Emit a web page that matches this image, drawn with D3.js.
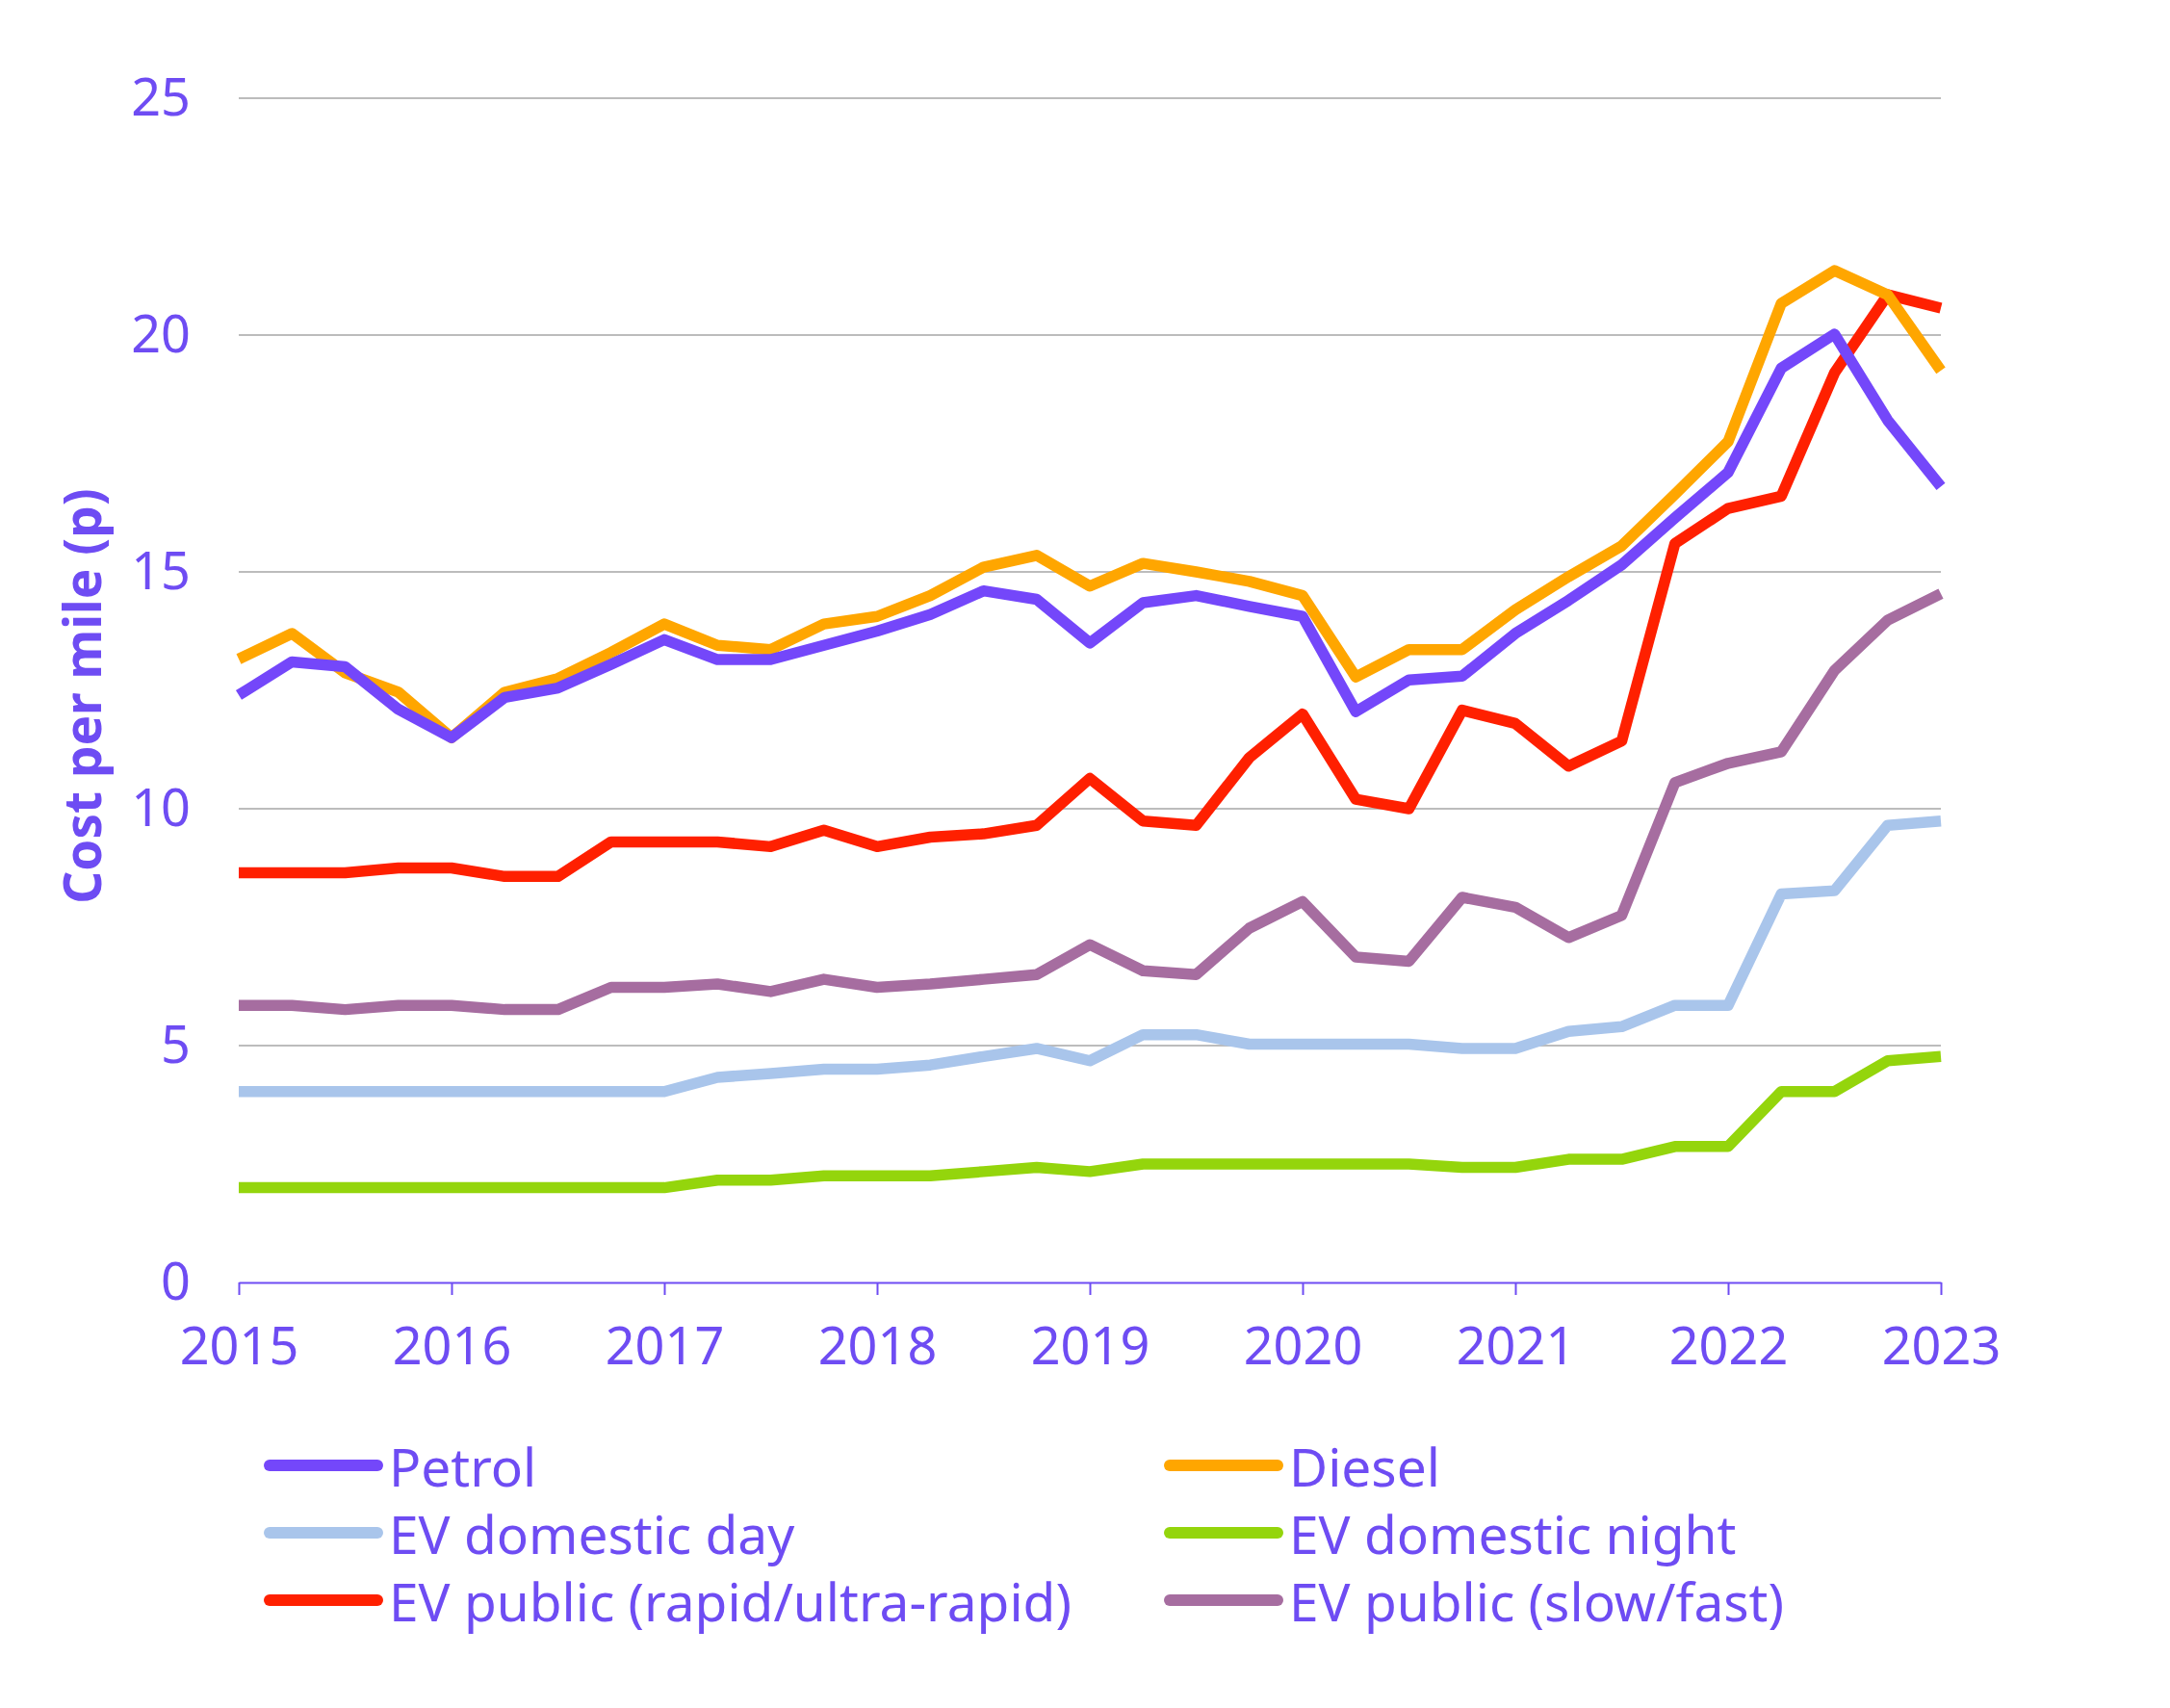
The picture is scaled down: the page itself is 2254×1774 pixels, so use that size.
<!DOCTYPE html>
<html>
<head>
<meta charset="utf-8">
<script src="https://cdn.jsdelivr.net/npm/d3@7"></script>
<style>
  html, body { margin: 0; padding: 0; background: #fff; }
  svg { display: block; }
</style>
</head>
<body>
<svg id="chart" width="2254" height="1774"></svg>
<script>
// quarterly readings, 2015 Q1 .. 2023 Q1
var quarters = d3.range(0, 33).map(function (i) { return 2015 + i / 4 })
var yearTicks = [2015, 2016, 2017, 2018, 2019, 2020, 2021, 2022, 2023]
var valueTicks = [0, 5, 10, 15, 20, 25]

var petrol = [12.4, 13.1, 13.0, 12.1, 11.5, 12.35, 12.55, 13.05, 13.57, 13.15, 13.15, 13.45, 13.75, 14.1, 14.6, 14.42,
  13.5, 14.35, 14.5, 14.27, 14.06, 12.05, 12.72, 12.8, 13.7, 14.4, 15.15, 16.14, 17.1, 19.3, 20.02, 18.2, 16.8]
var diesel = [13.16, 13.7, 12.87, 12.46, 11.5, 12.46, 12.75, 13.3, 13.9, 13.45, 13.36, 13.9, 14.06, 14.5, 15.1, 15.35,
  14.7, 15.18, 15.0, 14.8, 14.5, 12.78, 13.36, 13.36, 14.2, 14.9, 15.55, 16.64, 17.75, 20.67, 21.36, 20.85, 19.25]
var evDay = [4.03, 4.03, 4.03, 4.03, 4.03, 4.03, 4.03, 4.03, 4.03, 4.33, 4.41, 4.5, 4.5, 4.59, 4.77, 4.94,
  4.68, 5.23, 5.23, 5.03, 5.03, 5.03, 5.03, 4.94, 4.94, 5.3, 5.4, 5.85, 5.85, 8.2, 8.27, 9.65, 9.74]
var evNight = [2.0, 2.0, 2.0, 2.0, 2.0, 2.0, 2.0, 2.0, 2.0, 2.16, 2.16, 2.25, 2.25, 2.25, 2.34, 2.43,
  2.34, 2.5, 2.5, 2.5, 2.5, 2.5, 2.5, 2.43, 2.43, 2.6, 2.6, 2.87, 2.87, 4.03, 4.03, 4.68, 4.77]
var evRapid = [8.65, 8.65, 8.65, 8.75, 8.75, 8.57, 8.57, 9.3, 9.3, 9.3, 9.2, 9.55, 9.2, 9.4, 9.47, 9.65,
  10.64, 9.74, 9.65, 11.08, 12.0, 10.2, 10.0, 12.08, 11.8, 10.9, 11.43, 15.6, 16.34, 16.6, 19.2, 20.85, 20.57]
var evSlow = [5.85, 5.85, 5.76, 5.85, 5.85, 5.76, 5.76, 6.23, 6.23, 6.3, 6.14, 6.4, 6.23, 6.3, 6.4, 6.5,
  7.13, 6.58, 6.5, 7.48, 8.04, 6.87, 6.78, 8.13, 7.92, 7.28, 7.75, 10.55, 10.96, 11.2, 12.92, 13.98, 14.54]

var seriesNames = ['Petrol', 'Diesel', 'EV domestic day', 'EV domestic night',
  'EV public (rapid/ultra-rapid)', 'EV public (slow/fast)']
var seriesValues = [petrol, diesel, evDay, evNight, evRapid, evSlow]
var seriesColors = ['#7447fa', '#ffa600', '#a9c5eb', '#94d50c', '#ff2000', '#a66da0']

var textColor = '#6e4cf3'
var font = '"Noto Sans", "DejaVu Sans", sans-serif'

var svg = d3.select('#chart')

var x = d3.scaleLinear().domain([2015, 2023]).range([248, 2016])
var y = d3.scaleLinear().domain([0, 25]).range([1332, 102])

// gridlines
svg.append('g')
  .selectAll('line')
  .data(valueTicks.filter(function (d) { return d > 0 }))
  .enter().append('line')
  .attr('x1', x(2015)).attr('x2', x(2023))
  .attr('y1', function (d) { return y(d) })
  .attr('y2', function (d) { return y(d) })
  .attr('stroke', '#a6a6a6')
  .attr('stroke-width', 1.6)

// y axis labels (no axis line)
var yAxis = svg.append('g')
  .attr('transform', 'translate(' + x(2015) + ',0)')
  .call(d3.axisLeft(y).tickValues(valueTicks).tickSize(0).tickPadding(50))
yAxis.select('.domain').remove()
yAxis.selectAll('text')
  .attr('fill', textColor)
  .style('font-family', font)
  .style('font-size', '54px')

// x axis
var xAxis = svg.append('g')
  .attr('transform', 'translate(0,' + y(0) + ')')
  .call(d3.axisBottom(x).tickValues(yearTicks).tickFormat(d3.format('d')).tickSizeInner(13).tickSizeOuter(0).tickPadding(34))
xAxis.select('.domain').attr('stroke', textColor).attr('stroke-width', 2)
xAxis.selectAll('.tick line').attr('stroke', textColor).attr('stroke-width', 2)
xAxis.selectAll('text')
  .attr('fill', textColor)
  .style('font-family', font)
  .style('font-size', '54px')

// lines
var line = d3.line()
  .x(function (d, i) { return x(quarters[i]) })
  .y(function (d) { return y(d) })

var drawOrder = [3, 2, 5, 4, 1, 0]
svg.append('g')
  .selectAll('path')
  .data(drawOrder.map(function (i) { return { values: seriesValues[i], color: seriesColors[i] } }))
  .enter().append('path')
  .attr('d', function (d) { return line(d.values) })
  .attr('fill', 'none')
  .attr('stroke', function (d) { return d.color })
  .attr('stroke-width', 11.5)
  .attr('stroke-linejoin', 'round')

// y axis title
svg.append('text')
  .attr('transform', 'translate(84,723) rotate(-90)')
  .attr('text-anchor', 'middle')
  .attr('dominant-baseline', 'central')
  .attr('fill', textColor)
  .style('font-family', font)
  .style('font-weight', 'bold')
  .style('font-size', '53px')
  .text('Cost per mile (p)')

// legend, two columns
var legend = svg.append('g')
var colX = [280, 1215]
var rowY = [1522, 1592, 1662]
seriesNames.forEach(function (name, i) {
  var lx = colX[i % 2]
  var ly = rowY[Math.floor(i / 2)]
  legend.append('line')
    .attr('x1', lx).attr('x2', lx + 112)
    .attr('y1', ly).attr('y2', ly)
    .attr('stroke', seriesColors[i])
    .attr('stroke-width', 12)
    .attr('stroke-linecap', 'round')
  legend.append('text')
    .attr('x', lx + 124)
    .attr('y', ly)
    .attr('dominant-baseline', 'central')
    .attr('fill', textColor)
    .style('font-family', font)
    .style('font-size', '55px')
    .text(name)
})
</script>
</body>
</html>
